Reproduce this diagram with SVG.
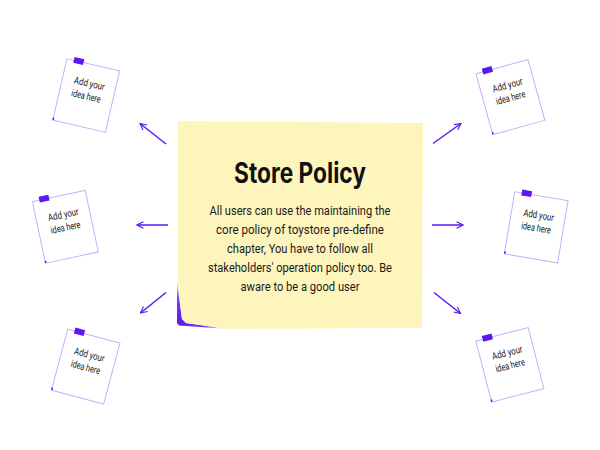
<svg xmlns="http://www.w3.org/2000/svg" width="600" height="450" viewBox="0 0 600 450">
  <defs>
    <marker id="head" viewBox="0 0 10 10" refX="9" refY="5" markerWidth="8" markerHeight="8" markerUnits="userSpaceOnUse" orient="auto">
      <path d="M1,1 L9,5 L1,9" fill="none" stroke="#5a19f0" stroke-width="1.4"/>
    </marker>
    <radialGradient id="curl" gradientUnits="userSpaceOnUse" cx="178" cy="326" r="48">
      <stop offset="0" stop-color="#5a19f0"/>
      <stop offset="0.55" stop-color="#5a19f0" stop-opacity="0.85"/>
      <stop offset="1" stop-color="#5a19f0" stop-opacity="0"/>
    </radialGradient>
    <g id="sticky">
      <rect x="-27" y="-31.5" width="54" height="63" fill="#ffffff" stroke="#c3b1fb" stroke-width="1"/>
      <rect x="-20" y="-35" width="10" height="6" fill="#5a19f0"/>
      <rect x="-27.5" y="29" width="1.6" height="2.2" fill="#5a19f0"/>
      <text class="idea" x="0.5" y="-9" textLength="31" lengthAdjust="spacingAndGlyphs">Add your</text>
      <text class="idea" x="0" y="4" textLength="30" lengthAdjust="spacingAndGlyphs">idea here</text>
    </g>
  </defs>
  <style>
    .idea { font-family: Roboto, "Liberation Sans", sans-serif; font-size: 10px; fill: #222222; text-anchor: middle; }
    .title { font-family: Inter, "Liberation Sans", sans-serif; font-size: 28px; font-weight: 700; fill: #111111; text-anchor: middle; }
    .body { font-family: Roboto, "Liberation Sans", sans-serif; font-size: 12.5px; fill: #1a1a1a; text-anchor: middle; }
    .link { stroke: #5a19f0; stroke-width: 1.5; fill: none; marker-end: url(#head); }
  </style>

  <rect width="600" height="450" fill="#ffffff"/>

  <!-- central sticky note -->
  <g id="store-policy">
    <path d="M177,280 L177,323 L179,325.5 L228,329 L186,323 L182,319 L179.5,300 Z" fill="url(#curl)"/>
    <path d="M178,121 L423,123 L422,328 L228,329 L186,323 L182,319 L179.5,300 L178,280 Z" fill="#fef5bd"/>
    <text class="title" x="300" y="183" textLength="132" lengthAdjust="spacingAndGlyphs">Store Policy</text>
    <text class="body" x="300" y="215" textLength="181" lengthAdjust="spacingAndGlyphs">All users can use the maintaining the</text>
    <text class="body" x="300" y="234" textLength="168" lengthAdjust="spacingAndGlyphs">core policy of toystore pre-define</text>
    <text class="body" x="300" y="253" textLength="146" lengthAdjust="spacingAndGlyphs">chapter, You have to follow all</text>
    <text class="body" x="300" y="272" textLength="184" lengthAdjust="spacingAndGlyphs">stakeholders' operation policy too. Be</text>
    <text class="body" x="300" y="291" textLength="119" lengthAdjust="spacingAndGlyphs">aware to be a good user</text>
  </g>

  <!-- idea notes -->
  <g id="idea-top-left"><use href="#sticky" transform="translate(86.2,95.5) rotate(13)"/></g>
  <g id="idea-mid-left"><use href="#sticky" transform="translate(65.4,226.8) rotate(-12)"/></g>
  <g id="idea-bottom-left"><use href="#sticky" transform="translate(85.7,366.6) rotate(15)"/></g>
  <g id="idea-top-right"><use href="#sticky" transform="translate(510.4,97.1) rotate(-15.5)"/></g>
  <g id="idea-mid-right"><use href="#sticky" transform="translate(536.2,227.3) rotate(9.5)"/></g>
  <g id="idea-bottom-right"><use href="#sticky" transform="translate(509.9,364.8) rotate(-14.5)"/></g>

  <!-- connectors -->
  <g id="connectors">
    <line class="link" x1="166" y1="144" x2="140" y2="123.5"/>
    <line class="link" x1="168" y1="225" x2="137" y2="225"/>
    <line class="link" x1="166" y1="292.5" x2="140.5" y2="313"/>
    <line class="link" x1="433" y1="143.5" x2="461" y2="123.5"/>
    <line class="link" x1="432" y1="225" x2="463" y2="225"/>
    <line class="link" x1="434" y1="292.5" x2="460.5" y2="313.5"/>
  </g>
</svg>
